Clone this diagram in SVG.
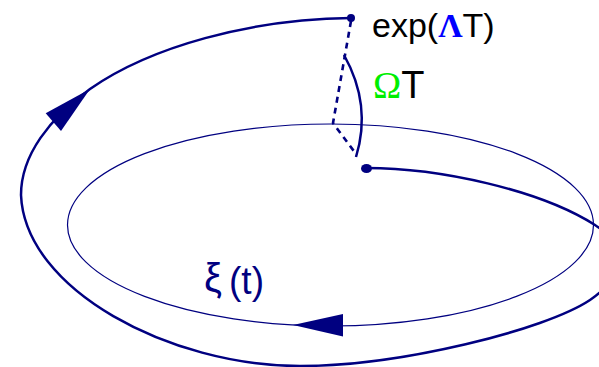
<svg xmlns="http://www.w3.org/2000/svg" width="599" height="367" viewBox="0 0 599 367">
<style>
.thin{fill:none;stroke:#000080;stroke-width:1.2}
.thick{fill:none;stroke:#000080;stroke-width:2.5}
.dash{fill:none;stroke:#000080;stroke-width:2.6;stroke-dasharray:6,5}
.head{fill:#000080;stroke:none}
.sans{font-family:"Liberation Sans",Arial,sans-serif}
.serif{font-family:"Liberation Serif","Times New Roman",serif}
</style>
<rect width="599" height="367" fill="#ffffff"/>
<g id="orbit">
<ellipse class="thin" cx="330.5" cy="225" rx="263" ry="101"/>
<polygon class="head" points="293,325 343,314 343,336.5"/>
</g>
<g id="connectors">
<path class="thick" d="M366,168 C440,168 540,190 595,225 C630,248 620,280 590,300 C545,330 400,366 300,366 C170,366 25,290 21,195 C21,155 50,118 90,89 C150,47 250,19 351,18"/>
<polygon class="head" points="90,89 45.7,113.3 61,131"/>
<path class="dash" d="M351,21 L333,123 L356,154"/>
<path class="thick" d="M344,55 Q372,105 356,157"/>
</g>
<g id="end-point">
<circle cx="351" cy="18" r="4" fill="#000080"/>
</g>
<g id="start-point">
<ellipse cx="366.5" cy="168.5" rx="5.5" ry="4.5" fill="#000080"/>
</g>
<g id="label-exp">
<text x="372" y="37" font-size="34" class="sans" fill="#000000">exp(<tspan class="serif" font-weight="bold" fill="#0000ff">Λ</tspan>T)</text>
</g>
<g id="label-omega">
<text x="373" y="98" font-size="38" class="sans" fill="#000000"><tspan class="serif" fill="#00ee00">Ω</tspan>T</text>
</g>
<g id="label-xi">
<text x="204" y="292" font-size="40" class="sans" fill="#000080">ξ</text>
<text x="229" y="294" font-size="39" class="sans" fill="#000080" textLength="35" lengthAdjust="spacingAndGlyphs">(t)</text>
</g>
</svg>
